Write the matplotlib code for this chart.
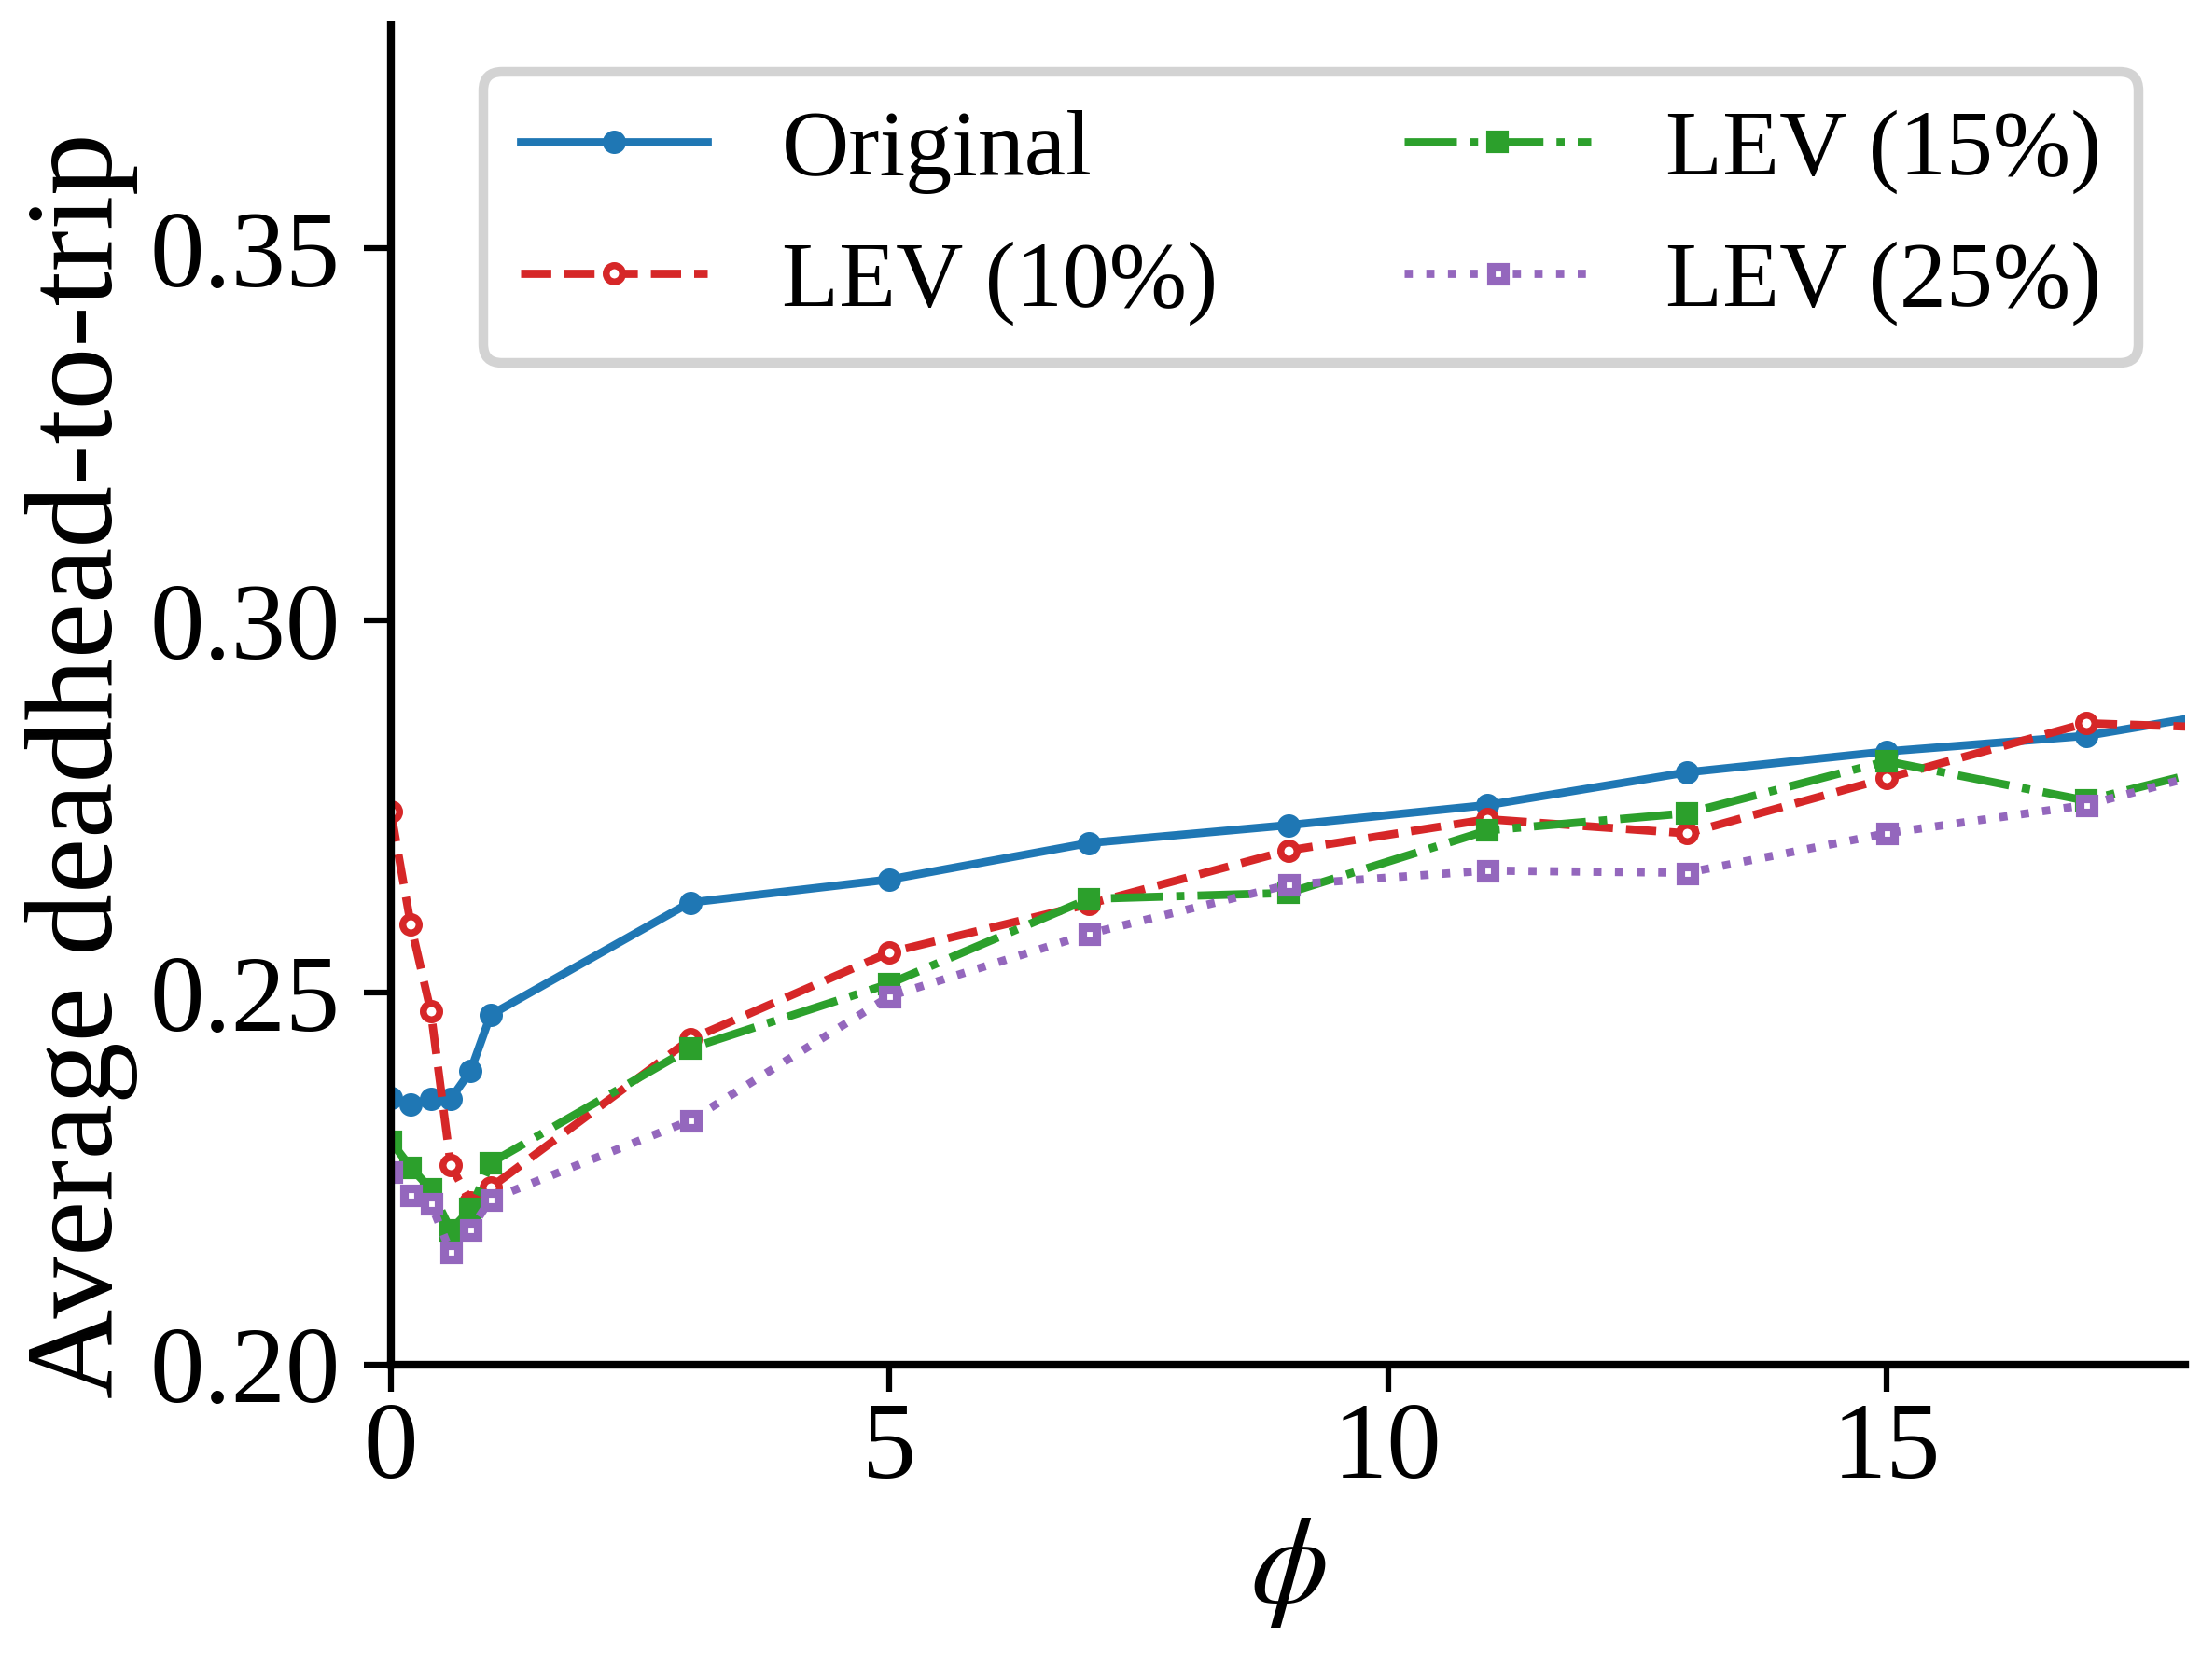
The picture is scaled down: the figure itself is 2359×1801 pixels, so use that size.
import matplotlib
matplotlib.use("Agg")
import matplotlib.pyplot as plt

plt.rcParams['font.family'] = ['Liberation Serif', 'DejaVu Serif']
plt.rcParams['mathtext.fontset'] = 'stix'

# phi values (last point lies beyond the visible x range)
phi = [0, 0.2, 0.4, 0.6, 0.8, 1, 3, 5, 7, 9, 11, 13, 15, 17, 19]

original = [0.2359, 0.2350, 0.2357, 0.2357, 0.2395, 0.2470, 0.2621, 0.2652,
            0.2701, 0.2725, 0.2752, 0.2796, 0.2824, 0.2845, 0.2890]
lev10 = [0.2743, 0.2591, 0.2475, 0.2268, 0.2218, 0.2238, 0.2437, 0.2554,
         0.2619, 0.2691, 0.2733, 0.2714, 0.2788, 0.2862, 0.2853]
lev15 = [0.2300, 0.2265, 0.2236, 0.2181, 0.2209, 0.2271, 0.2425, 0.2512,
         0.2626, 0.2634, 0.2718, 0.2741, 0.2811, 0.2758, 0.2825]
lev25 = [0.2260, 0.2228, 0.2217, 0.2151, 0.2182, 0.2222, 0.2328, 0.2495,
         0.2579, 0.2645, 0.2664, 0.2661, 0.2714, 0.2752, 0.2823]

fig = plt.figure(figsize=(2359 / 300, 1801 / 300), dpi=300)
ax = fig.add_axes([0.1776, 0.1877, 0.993 - 0.1776, 0.985 - 0.1877])

ax.plot(phi, original, color='#1f77b4', linestyle='-', linewidth=2.1,
        marker='o', markersize=5, label='Original')
ax.plot(phi, lev10, color='#d62728', linestyle='--', linewidth=2.1,
        marker='o', markersize=4.2, markerfacecolor='white', markeredgewidth=1.8,
        label='LEV (10%)')
ax.plot(phi, lev15, color='#2ca02c', linestyle='-.', linewidth=2.1,
        marker='s', markersize=4.8, label='LEV (15%)')
ax.plot(phi, lev25, color='#9467bd', linestyle=':', linewidth=2.1,
        marker='s', markersize=3.6, markerfacecolor='white', markeredgewidth=2.2,
        label='LEV (25%)')

ax.set_xlim(0, 18)
ax.set_ylim(0.2, 0.38)
ax.set_xticks([0, 5, 10, 15])
ax.set_yticks([0.20, 0.25, 0.30, 0.35])
ax.set_yticklabels(['0.20', '0.25', '0.30', '0.35'])
ax.tick_params(labelsize=28, width=1.5, length=7)
ax.tick_params(axis='x', pad=2.5)
ax.tick_params(axis='y', pad=6)
for s in ['top', 'right']:
    ax.spines[s].set_visible(False)
for s in ['left', 'bottom']:
    ax.spines[s].set_linewidth(2)

ax.set_xlabel(r'$\phi$', fontsize=32)
ax.set_ylabel('Average deadhead-to-trip', fontsize=32)
ax.yaxis.set_label_coords(-0.1409, 0.447)

leg = ax.legend(loc='upper right', ncol=2, fontsize=24, fancybox=True,
                framealpha=1.0)
leg.get_frame().set_edgecolor('#d3d3d3')
leg.get_frame().set_linewidth(2.5)

fig.savefig('out.png', dpi=300)
